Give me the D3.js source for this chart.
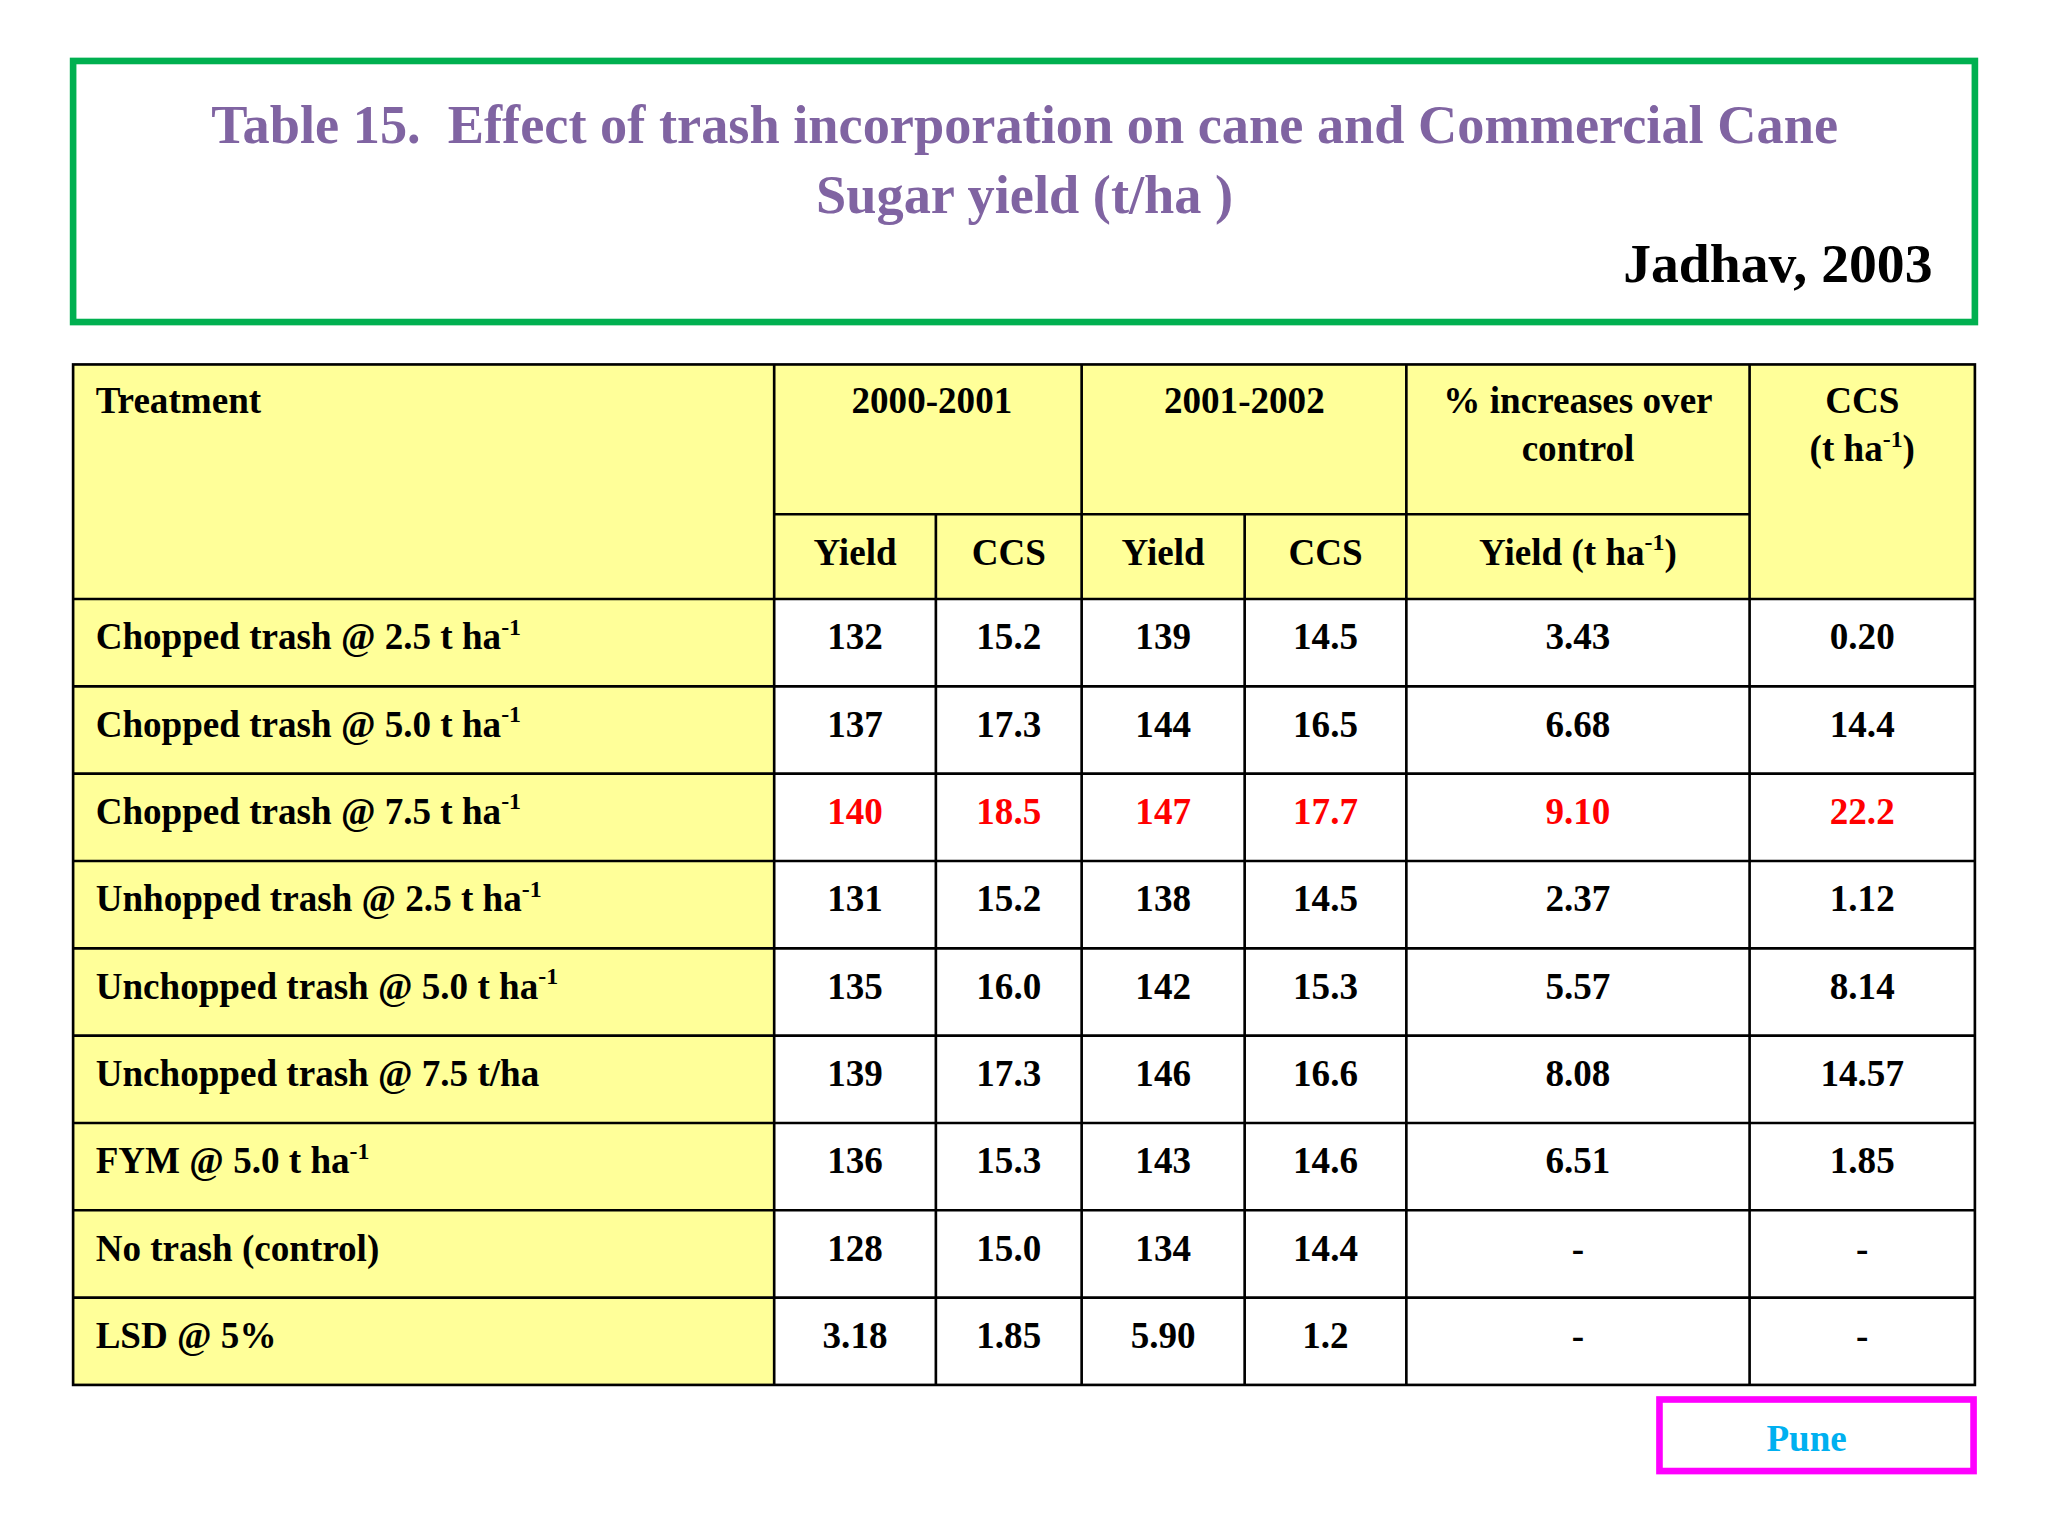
<!DOCTYPE html>
<html><head><meta charset="utf-8">
<script src="https://cdn.jsdelivr.net/npm/d3@7"></script>
<style>body{margin:0;background:#fff}svg{display:block}text{font-family:"Liberation Serif","Times New Roman",serif;font-weight:bold}</style>
</head><body>
<svg id="chart" width="2048" height="1536" viewBox="0 0 1545 1159"></svg>
<script>
// table content
var treatments = [
  ['Chopped trash @ 2.5 t ha', '-1'],
  ['Chopped trash @ 5.0 t ha', '-1'],
  ['Chopped trash @ 7.5 t ha', '-1'],
  ['Unhopped trash @ 2.5 t ha', '-1'],
  ['Unchopped trash @ 5.0 t ha', '-1'],
  ['Unchopped trash @ 7.5 t/ha', ''],
  ['FYM @ 5.0 t ha', '-1'],
  ['No trash (control)', ''],
  ['LSD @ 5%', '']
];
var yield2001 = ['132', '137', '140', '131', '135', '139', '136', '128', '3.18'];
var ccs2001 = ['15.2', '17.3', '18.5', '15.2', '16.0', '17.3', '15.3', '15.0', '1.85'];
var yield2002 = ['139', '144', '147', '138', '142', '146', '143', '134', '5.90'];
var ccs2002 = ['14.5', '16.5', '17.7', '14.5', '15.3', '16.6', '14.6', '14.4', '1.2'];
var pctYield = ['3.43', '6.68', '9.10', '2.37', '5.57', '8.08', '6.51', '-', '-'];
var pctCCS = ['0.20', '14.4', '22.2', '1.12', '8.14', '14.57', '1.85', '-', '-'];
var highlightRow = 2;

var svg = d3.select('#chart');
var colEdges = [55, 584, 706, 816, 939, 1061, 1320, 1490];
var tableTop = 275, subTop = 388, bodyTop = 452, bodyBottom = 1045;
var yellow = '#ffff99';

// title box
svg.append('rect').attr('x', 55).attr('y', 46).attr('width', 1435).attr('height', 197)
  .attr('fill', '#fff').attr('stroke', '#00b050').attr('stroke-width', 5);
var purple = '#8064a2';
svg.append('text').attr('x', 773).attr('y', 108).attr('text-anchor', 'middle')
  .style('font-size', '41px').attr('fill', purple)
  .text('Table 15.  Effect of trash incorporation on cane and Commercial Cane').attr('xml:space', 'preserve');
svg.append('text').attr('x', 773).attr('y', 161).attr('text-anchor', 'middle')
  .style('font-size', '41px').attr('fill', purple).text('Sugar yield (t/ha )');
svg.append('text').attr('x', 1458).attr('y', 213).attr('text-anchor', 'end')
  .style('font-size', '42px').attr('fill', '#000').text('Jadhav, 2003');

// row scale
var y = d3.scaleBand().domain(d3.range(treatments.length)).range([bodyTop, bodyBottom]);

// backgrounds
svg.append('rect').attr('x', colEdges[0]).attr('y', tableTop)
  .attr('width', colEdges[7] - colEdges[0]).attr('height', bodyTop - tableTop).attr('fill', yellow);
svg.append('rect').attr('x', colEdges[0]).attr('y', bodyTop)
  .attr('width', colEdges[1] - colEdges[0]).attr('height', bodyBottom - bodyTop).attr('fill', yellow);
svg.append('rect').attr('x', colEdges[1]).attr('y', bodyTop)
  .attr('width', colEdges[7] - colEdges[1]).attr('height', bodyBottom - bodyTop).attr('fill', '#fff');

// grid lines
var lines = svg.append('g').attr('stroke', '#000').attr('stroke-width', 2);
lines.append('rect').attr('x', colEdges[0]).attr('y', tableTop)
  .attr('width', colEdges[7] - colEdges[0]).attr('height', bodyBottom - tableTop).attr('fill', 'none');
[1, 3, 5, 6].forEach(function(i) {
  lines.append('line').attr('x1', colEdges[i]).attr('x2', colEdges[i]).attr('y1', tableTop).attr('y2', bodyBottom);
});
[2, 4].forEach(function(i) {
  lines.append('line').attr('x1', colEdges[i]).attr('x2', colEdges[i]).attr('y1', subTop).attr('y2', bodyBottom);
});
lines.append('line').attr('x1', colEdges[1]).attr('x2', colEdges[6]).attr('y1', subTop).attr('y2', subTop);
d3.range(treatments.length).forEach(function(i) {
  lines.append('line').attr('x1', colEdges[0]).attr('x2', colEdges[7]).attr('y1', y(i)).attr('y2', y(i));
});

function cx(i) { return (colEdges[i] + colEdges[i + 1]) / 2; }
var fs = '28px';
function label(x, yy, str, anchor, sup) {
  var t = svg.append('text').attr('x', x).attr('y', yy).attr('text-anchor', anchor || 'middle')
    .style('font-size', fs).attr('fill', '#000');
  t.append('tspan').text(str);
  if (sup) t.append('tspan').attr('dy', -11).style('font-size', '18px').text(sup);
  return t;
}

// header
label(72, 312, 'Treatment', 'start');
label(cx(1) + (cx(2) - cx(1)) / 2, 312, '2000-2001');
label(cx(3) + (cx(4) - cx(3)) / 2, 312, '2001-2002');
label(cx(5), 312, '% increases over');
label(cx(5), 348, 'control');
label(cx(6), 312, 'CCS');
var t = label(cx(6), 348, '(t ha', 'middle', '-1');
t.append('tspan').attr('dy', 11).text(')');
['Yield', 'CCS', 'Yield', 'CCS'].forEach(function(s, i) { label(cx(i + 1), 426, s); });
var t2 = label(cx(5), 426, 'Yield (t ha', 'middle', '-1');
t2.append('tspan').attr('dy', 11).text(')');

// body
var cols = [yield2001, ccs2001, yield2002, ccs2002, pctYield, pctCCS];
treatments.forEach(function(tr, r) {
  var by = y(r) + 38;
  label(72, by, tr[0], 'start', tr[1]);
  cols.forEach(function(col, c) {
    label(cx(c + 1), by, col[r]).attr('fill', r === highlightRow ? '#ff0000' : '#000');
  });
});

// location box
svg.append('rect').attr('x', 1252).attr('y', 1056).attr('width', 237).attr('height', 54)
  .attr('fill', '#fff').attr('stroke', '#ff00ff').attr('stroke-width', 5);
svg.append('text').attr('x', 1363).attr('y', 1095).attr('text-anchor', 'middle')
  .style('font-size', '28px').attr('fill', '#00b0f0').text('Pune');
</script>
</body></html>
